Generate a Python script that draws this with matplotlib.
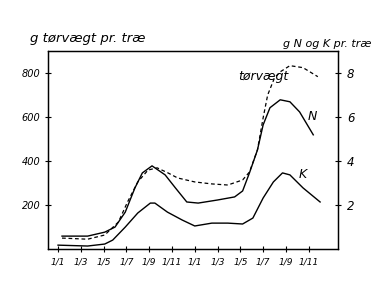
import matplotlib
matplotlib.use("Agg")
import matplotlib.pyplot as plt

# month index (0 = 1 Jan year 1)
months_dry = [0.35, 2.6, 4.1, 5.3, 6.1, 7.0, 7.9, 8.7, 9.65, 10.5, 12.0, 13.5, 14.9,
              16.2, 16.8, 17.5, 18.0, 18.4, 19.0, 19.5, 20.35, 21.5, 22.8]
dry_weight = [50, 45, 64, 123, 214, 305, 359, 369, 346, 323, 305, 296, 291,
              314, 350, 450, 596, 700, 778, 805, 833, 824, 783]

months_n = [0.35, 2.6, 4.1, 5.0, 5.9, 6.75, 7.4, 8.25, 9.4, 10.3, 11.3, 12.3, 14.0,
            15.5, 16.2, 16.8, 17.5, 18.0, 18.6, 19.5, 20.35, 21.2, 22.4]
nitrogen = [0.59, 0.59, 0.77, 1.0, 1.68, 2.78, 3.46, 3.78, 3.37, 2.78, 2.14, 2.09, 2.23,
            2.37, 2.64, 3.46, 4.5, 5.64, 6.42, 6.78, 6.69, 6.23, 5.19]

months_k = [0.0, 2.6, 4.1, 4.8, 5.9, 7.0, 8.1, 8.5, 9.6, 10.9, 12.0, 13.5, 14.9,
            16.2, 17.1, 18.0, 18.9, 19.7, 20.35, 21.5, 23.0]
potassium = [0.18, 0.14, 0.23, 0.41, 1.0, 1.64, 2.09, 2.09, 1.68, 1.32, 1.05, 1.18, 1.18,
             1.14, 1.41, 2.32, 3.05, 3.46, 3.37, 2.78, 2.14]

tick_months = [0, 2, 4, 6, 8, 10, 12, 14, 16, 18, 20, 22]
tick_labels = ["1/1", "1/3", "1/5", "1/7", "1/9", "1/11",
               "1/1", "1/3", "1/5", "1/7", "1/9", "1/11"]
left_ticks = [200, 400, 600, 800]
right_ticks = [2, 4, 6, 8]

fig = plt.figure(figsize=(3.75, 2.86), dpi=100)
ax = fig.add_axes([0.128, 0.129, 0.773, 0.693])
ax2 = ax.twinx()

ax.plot(months_dry, dry_weight, color="black", lw=0.9, ls=(0, (3, 2.2)))
ax2.plot(months_n, nitrogen, color="black", lw=1.0)
ax2.plot(months_k, potassium, color="black", lw=1.0)

ax.set_xlim(-0.88, 24.56)
ax.set_ylim(0, 900)
ax2.set_ylim(0, 9)

txt = dict(style="italic", family="DejaVu Sans", color="black")
ax.set_xticks(tick_months)
ax.set_xticklabels(tick_labels, fontsize=6.5, **txt)
ax.set_yticks(left_ticks)
ax.set_yticklabels([str(v) for v in left_ticks], fontsize=7, **txt)
ax2.set_yticks(right_ticks)
ax2.set_yticklabels([str(v) for v in right_ticks], fontsize=8.5, **txt)

ax.tick_params(axis="x", direction="inout", length=4, width=0.8, pad=4)
ax.tick_params(axis="y", direction="inout", length=5, width=0.8, pad=3)
ax2.tick_params(axis="y", direction="inout", length=5, width=0.8, pad=4)

for a in (ax, ax2):
    for s in a.spines.values():
        s.set_linewidth(0.9)
        s.set_color("black")

ax.text(18.0, 783, "tørvægt", fontsize=9, ha="center", va="center", **txt)
ax2.text(22.3, 6.0, "N", fontsize=9, ha="center", va="center", **txt)
ax2.text(21.5, 3.4, "K", fontsize=9, ha="center", va="center", **txt)

fig.text(0.08, 0.865, "g tørvægt pr. træ", fontsize=9.5, ha="left", va="center", **txt)
fig.text(0.99, 0.845, "g N og K pr. træ", fontsize=8, ha="right", va="center", **txt)

fig.savefig("out.png", dpi=100, facecolor="white")
